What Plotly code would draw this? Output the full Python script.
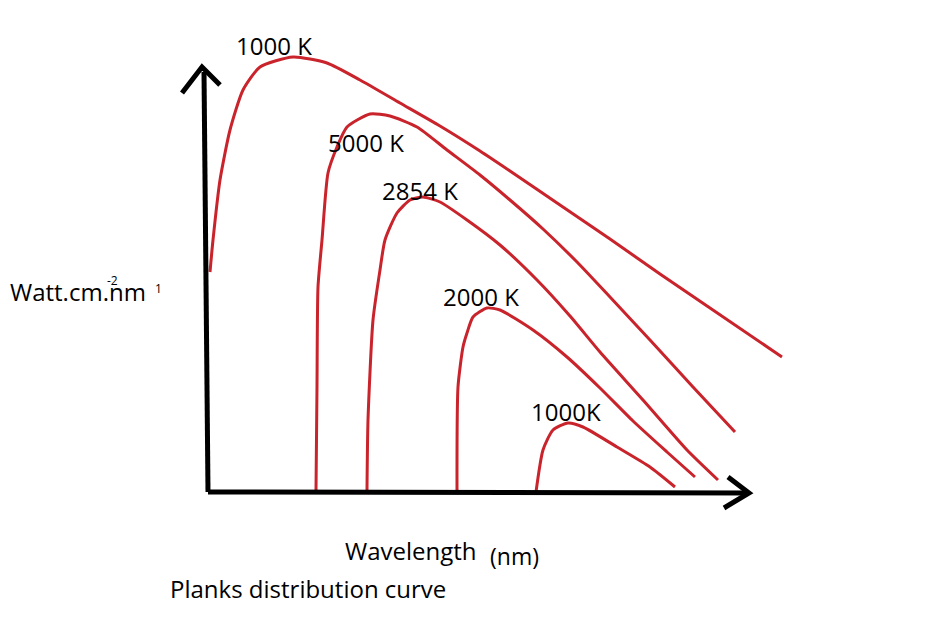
import plotly.graph_objects as go

# hand-drawn sketch, units are arbitrary: origin at the corner of the two axes
RED = "#c9232b"
FONT = "Open Sans"

# curve labels as written on the sketch
curve_names = ["1000 K", "5000 K", "2854 K", "2000 K", "1000K"]

# wavelength / intensity points, one pair per curve
wl_1000_top = [2, 5, 12, 22, 35, 52, 85, 119, 152, 192, 232, 272, 302, 352, 402, 452, 502, 574]
in_1000_top = [220, 252, 312, 362, 402, 425, 435, 429, 412, 389, 366, 341, 321, 287, 253, 218, 184, 135]

wl_5000 = [108, 109, 110, 114, 120, 129, 139, 162, 182, 209, 239, 272, 302, 335, 369, 402, 442, 485, 527]
in_5000 = [2, 105, 205, 252, 319, 345, 365, 378, 376, 365, 342, 317, 292, 263, 230, 195, 152, 105, 60]

wl_2854 = [159, 160, 165, 172, 177, 189, 202, 215, 232, 259, 292, 329, 362, 392, 435, 479, 510]
in_2854 = [2, 72, 172, 222, 252, 279, 292, 295, 290, 272, 247, 212, 176, 140, 92, 42, 12]

wl_2000 = [249, 250, 255, 259, 265, 279, 292, 325, 359, 392, 425, 459, 487]
in_2000 = [2, 105, 145, 159, 175, 184, 182, 162, 135, 104, 71, 40, 15]

wl_1000_low = [328, 335, 345, 360, 375, 409, 442, 467]
in_1000_low = [0, 42, 62, 69, 65, 45, 25, 5]

# where each label sits (x, y in the same units)
label_x = [66, 158, 212, 273, 358]
label_y = [447, 350, 302, 196, 81]

# the axes and their arrow heads
yaxis_x = [0, -4]
yaxis_y = [0, 420]
yhead_x = [-26, -6, 12]
yhead_y = [399, 425, 407]
xaxis_x = [0, 540]
xaxis_y = [0, -1]
xhead_x = [520, 541, 516]
xhead_y = [15, -1, -16]

curves = [
    (wl_1000_top, in_1000_top),
    (wl_5000, in_5000),
    (wl_2854, in_2854),
    (wl_2000, in_2000),
    (wl_1000_low, in_1000_low),
]

fig = go.Figure()

for (xs, ys), name in zip(curves, curve_names):
    fig.add_trace(go.Scatter(x=xs, y=ys, mode="lines", name=name,
                             line={"color": RED, "width": 3, "shape": "spline", "smoothing": 0.6}))

for xs, ys in [(yaxis_x, yaxis_y), (yhead_x, yhead_y), (xaxis_x, xaxis_y), (xhead_x, xhead_y)]:
    fig.add_trace(go.Scatter(x=xs, y=ys, mode="lines",
                             line={"color": "black", "width": 5}))

for name, lx, ly in zip(curve_names, label_x, label_y):
    fig.add_annotation(x=lx, y=ly, text=name, showarrow=False,
                       font={"family": FONT, "size": 24, "color": "black"})

# y label with its odd little superscripts
fig.add_annotation(x=-200, y=201, text="Watt.cm.nm", showarrow=False, xanchor="left",
                   font={"family": FONT, "size": 24, "color": "black"})
fig.add_annotation(x=-96, y=212, text="-2", showarrow=False,
                   font={"family": FONT, "size": 12, "color": "black"})
fig.add_annotation(x=-50, y=204, text="1", showarrow=False,
                   font={"family": FONT, "size": 12, "color": "black"})

fig.add_annotation(x=135, y=-58, text="Wavelength", showarrow=False, xanchor="left",
                   font={"family": FONT, "size": 24, "color": "black"})
fig.add_annotation(x=280, y=-64, text="(nm)", showarrow=False, xanchor="left",
                   font={"family": FONT, "size": 23, "color": "black"})
fig.add_annotation(x=-40, y=-96, text="Planks distribution curve", showarrow=False, xanchor="left",
                   font={"family": FONT, "size": 24, "color": "black"})

# the page body has an 8px margin, so the figure is 8px smaller and the ranges shifted
fig.update_layout(width=920, height=626, autosize=False, showlegend=False,
                  paper_bgcolor="white", plot_bgcolor="white",
                  margin={"l": 0, "r": 0, "t": 0, "b": 0, "pad": 0})
fig.update_xaxes(range=[-200, 720], visible=False, fixedrange=True)
fig.update_yaxes(range=[-142, 484], visible=False, fixedrange=True)

fig.write_html("out.html", config={"displayModeBar": False})
